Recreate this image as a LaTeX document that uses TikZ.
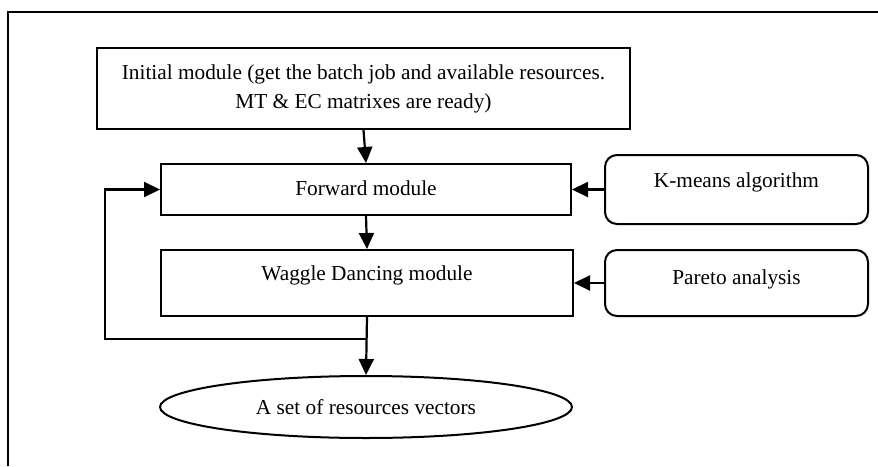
\documentclass[tikz,border=0pt]{standalone}
\usepackage{fontspec}
\setmainfont{Liberation Serif}
\usetikzlibrary{shapes.geometric,arrows.meta}
\tikzset{
  module/.style={draw,line width=2pt,inner sep=0pt,anchor=north west,align=center},
  helper/.style={module,rounded corners=12pt},
  flow/.style={line width=2.2pt,-{Triangle[length=16pt,width=15pt]}}
}

\begin{document}
\begin{tikzpicture}[x=1pt,y=-1pt,font=\fontsize{21.3}{29}\selectfont]

\useasboundingbox (0,0) rectangle (878,466);
\draw [line width=1.6pt] (8,466) -- (8,12) -- (878,12);

\node [module,minimum width=533pt,minimum height=81pt] (init) at (96,47)
    {Initial module (get the batch job and available resources.\\MT \& EC matrixes are ready)};
\node [module,minimum width=410pt,text height=31pt,text depth=20pt] (fwd) at (160,163) {Forward module};
\node [module,minimum width=412pt,text height=30pt,text depth=36pt] (wag) at (160,249) {Waggle Dancing module};
\node [helper,minimum width=263pt,text height=32pt,text depth=37pt] (kmeans) at (604,154) {K-means algorithm};
\node [helper,minimum width=263pt,text height=34pt,text depth=32pt] (pareto) at (604,249) {Pareto analysis};
\node [draw,ellipse,line width=2pt,inner sep=0pt,minimum width=412pt,minimum height=62pt] (res) at (366,407)
    {A set of resources vectors};

\coordinate (split) at (366,339);
\coordinate (back) at (105,339);

\draw [flow] (init.south) -- (fwd.north);
\draw [flow] (fwd.south) -- (wag.north);
\draw [flow] (wag.south) -- (res.north);
\draw [flow] (split) -- (back) |- (fwd.west);
\draw [flow] (kmeans.west) -- (fwd.east);
\draw [flow] (pareto.west) -- (wag.east);

\end{tikzpicture}
\end{document}
